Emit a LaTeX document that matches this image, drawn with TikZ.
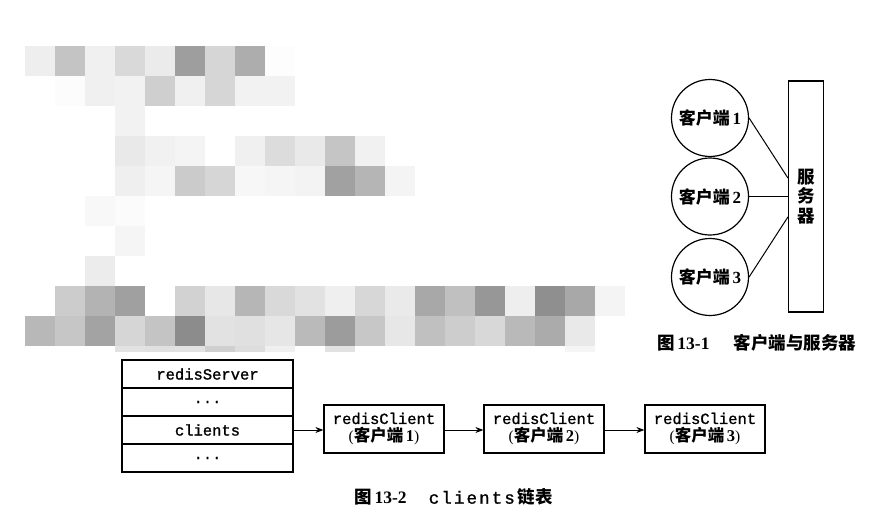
\documentclass[tikz,border=0pt]{standalone}
\usepackage{fontspec}
\setmainfont{Liberation Serif}
\setmonofont[FakeBold=1.2]{Liberation Mono}
\newfontfamily\cjk{Noto Sans CJK SC}
\newfontfamily\capmono[LetterSpace=12,FakeBold=1.2]{Liberation Mono}
\usetikzlibrary{arrows.meta,calc}
\newcommand\mosaiccell[3]{\fill[fill={rgb,255:red,#3;green,#3;blue,#3}] ({25+30*#1},{46+30*#2}) rectangle ++(30,30);}
\tikzset{
  ln/.style={line width=1.2pt, draw=black},
  client/.style={circle, ln, minimum size=77pt, inner sep=0pt, font=\fontsize{17}{19}\selectfont},
  srvbox/.style={rectangle, ln, minimum width=35pt, minimum height=231pt, inner sep=0pt, align=center, font=\cjk\bfseries\fontsize{17.5}{19.5}\selectfont},
  tabrow/.style={rectangle, ln, minimum width=171pt, minimum height=28pt, inner sep=0pt, font=\ttfamily\fontsize{15.5}{17}\selectfont},
  rcbox/.style={rectangle, ln, minimum width=120pt, minimum height=48pt, inner sep=0pt, align=center, font=\ttfamily\fontsize{15.5}{18}\selectfont},
  arr/.style={line width=1pt, -{Stealth[length=8pt,width=6pt]}},
  conn/.style={line width=1pt},
  capt/.style={font=\fontsize{17.5}{19}\selectfont\bfseries, inner sep=0pt},
}
\newcommand\cjkcl[1]{{\rmfamily\mdseries(}{\cjk\bfseries\fontsize{16.5}{18}\selectfont 客户端}\,{\rmfamily\bfseries\fontsize{16.5}{18}\selectfont #1}{\rmfamily\mdseries)}}
\begin{document}
\begin{tikzpicture}[x=1pt,y=-1pt]
\useasboundingbox[fill=white] (0,0) rectangle (870,519);
% pixelated (mosaic) region
\foreach \c/\g in {0/238,1/196,2/240,3/217,4/235,5/158,6/214,7/173,8/253} {\mosaiccell{\c}{0}{\g}}
\foreach \c/\g in {1/252,2/240,3/242,4/207,5/240,6/214,7/242,8/242} {\mosaiccell{\c}{1}{\g}}
\mosaiccell{3}{2}{242}
\foreach \c/\g in {3/233,4/241,5/244,7/240,8/220,9/233,10/197,11/241} {\mosaiccell{\c}{3}{\g}}
\foreach \c/\g in {3/239,4/245,5/203,6/214,7/247,8/245,9/243,10/161,11/181,12/244} {\mosaiccell{\c}{4}{\g}}
\mosaiccell{2}{5}{248}
\mosaiccell{3}{5}{251}
\mosaiccell{3}{6}{245}
\mosaiccell{2}{7}{236}
\foreach \c/\g in {1/204,2/179,3/160,5/210,6/231,7/182,8/217,9/226,10/239,11/215,12/234,13/168,14/192,15/151,16/238,17/143,18/168,19/244} {\mosaiccell{\c}{8}{\g}}
\foreach \c/\g in {0/184,1/198,2/163,3/214,4/196,5/140,6/226,7/224,8/230,9/186,10/156,11/199,12/231,13/192,14/205,15/216,16/185,17/171,18/233} {\mosaiccell{\c}{9}{\g}}
\foreach \c/\g in {3/226,4/224,5/226,6/207,7/221,8/240,10/226,18/245} {\fill[fill={rgb,255:red,\g;green,\g;blue,\g}] ({25+30*\c},346) rectangle ++(30,6);}

% Figure 13-1
\node[client] (c1) at (710,118) {{\cjk\bfseries 客户端}\,\textbf{1}};
\node[client] (c2) at (710,196.5) {{\cjk\bfseries 客户端}\,\textbf{2}};
\node[client] (c3) at (710,277) {{\cjk\bfseries 客户端}\,\textbf{3}};
\node[srvbox] (srv) at (806,196.5) {服\\务\\器};
\coordinate (s1) at ($(srv.west)+(0,-18.5)$);
\coordinate (s3) at ($(srv.west)+(0,20.5)$);
\draw[conn] (c1.east) -- (s1);
\draw[conn] (c2.east) -- (srv.west);
\draw[conn] (c3.east) -- (s3);
\node[capt] (cap1) at (756.5,343) {{\cjk 图}\,13-1\hspace{24pt}{\cjk 客户端与服务器}};

% Figure 13-2
\node[tabrow] (r1) at (207.5,374) {redisServer};
\node[tabrow] (r2) at (207.5,402) {...};
\node[tabrow] (r3) at (207.5,430) {clients};
\node[tabrow] (r4) at (207.5,458) {...};
\node[rcbox] (k1) at (384,429) {redisClient\\\cjkcl{1}};
\node[rcbox] (k2) at (544,429) {redisClient\\\cjkcl{2}};
\node[rcbox] (k3) at (705,429) {redisClient\\\cjkcl{3}};
\draw[arr] (r3.east) -- (k1.west |- r3.east);
\draw[arr] (k1.east |- r3.east) -- (k2.west |- r3.east);
\draw[arr] (k2.east |- r3.east) -- (k3.west |- r3.east);
\node[capt] (cap2) at (453.5,497) {{\cjk 图}\,13-2\hspace{22pt}{\mdseries\capmono clients}\,{\cjk 链表}};
\end{tikzpicture}
\end{document}
